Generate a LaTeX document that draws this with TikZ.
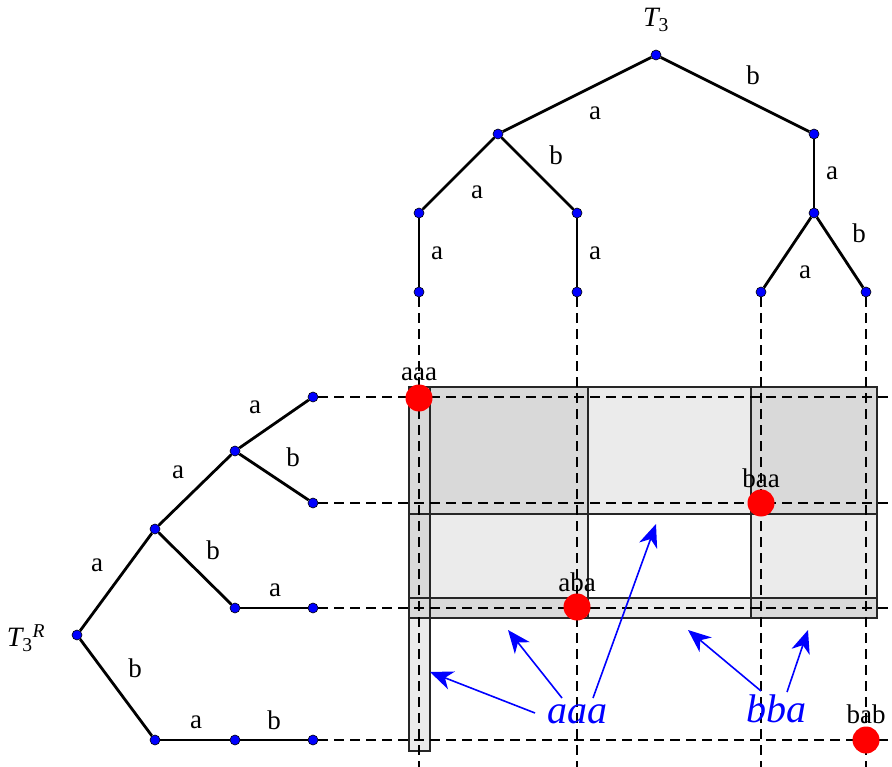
\documentclass[tikz,border=0pt]{standalone}
\usepackage{fontspec}
\setmainfont{Liberation Serif}
\usetikzlibrary{arrows.meta}
\begin{document}
\begin{tikzpicture}[x=1pt,y=-1pt,
  edge/.style={line width=2.8pt},
  vtx/.style={circle,fill=blue,draw=black,line width=0.6pt,inner sep=0pt,minimum size=10pt},
  hit/.style={circle,fill=red,inner sep=0pt,minimum size=27pt},
  lbl/.style={font=\fontsize{27}{30}\selectfont,inner sep=0pt},
  word/.style={font=\fontsize{27}{30}\selectfont,inner sep=0pt,anchor=base},
  guide/.style={dash pattern=on 10pt off 6pt,line width=1.2pt},
  band/.style={fill=black!8},
  overlap/.style={fill=black!15},
  bandline/.style={draw=black!85,line width=1.2pt},
  pointer/.style={blue,line width=1.6pt,-{Stealth[length=23pt,width=19pt,inset=7pt]}},
  big/.style={font=\fontsize{40}{44}\selectfont\itshape,text=blue,inner sep=0pt,anchor=base},
  title/.style={font=\fontsize{28}{32}\selectfont,inner sep=0pt}
]
\useasboundingbox (0,0) rectangle (892,767);

% shaded bands
\fill[band] (409,387) rectangle (877,514);
\fill[band] (409,598) rectangle (877,618);
\fill[band] (409,387) rectangle (588,618);
\fill[band] (751,387) rectangle (877,618);
\fill[band] (409,387) rectangle (430,751);
\fill[overlap] (409,387) rectangle (588,514);
\fill[overlap] (751,387) rectangle (877,514);
\fill[overlap] (409,598) rectangle (588,618);
\fill[overlap] (751,598) rectangle (877,618);
\fill[overlap] (409,514) rectangle (430,598);
\draw[bandline] (409,387) rectangle (877,514);
\draw[bandline] (409,598) rectangle (877,618);
\draw[bandline] (409,387) rectangle (588,618);
\draw[bandline] (751,387) rectangle (877,618);
\draw[bandline] (409,387) rectangle (430,751);

% top tree T3
\node[vtx] (t) at (656,55) {};
\node[vtx] (ta) at (498,134) {};
\node[vtx] (tb) at (814,134) {};
\node[vtx] (taa) at (419,213) {};
\node[vtx] (tab) at (577,213) {};
\node[vtx] (tba) at (814,213) {};
\node[vtx] (taaa) at (419,292) {};
\node[vtx] (taba) at (577,292) {};
\node[vtx] (tbaa) at (761,292) {};
\node[vtx] (tbab) at (866,292) {};
\draw[edge] (t) -- (ta);
\draw[edge] (t) -- (tb);
\draw[edge] (ta) -- (taa);
\draw[edge] (ta) -- (tab);
\draw[edge] (tb) -- (tba);
\draw[edge] (taa) -- (taaa);
\draw[edge] (tab) -- (taba);
\draw[edge] (tba) -- (tbaa);
\draw[edge] (tba) -- (tbab);
\node[title] (T) at (656,20) {\itshape T\textsubscript{\upshape 3}};
\node[lbl] (e1) at (753,75) {b};
\node[lbl] (e2) at (595,113) {a};
\node[lbl] (e3) at (556,155) {b};
\node[lbl] (e4) at (477,192) {a};
\node[lbl] (e5) at (832,173) {a};
\node[lbl] (e6) at (437,253) {a};
\node[lbl] (e7) at (595,253) {a};
\node[lbl] (e8) at (859,233) {b};
\node[lbl] (e9) at (805,272) {a};

% left tree T3^R
\node[vtx] (r) at (77,635) {};
\node[vtx] (ra) at (155,529) {};
\node[vtx] (rb) at (155,740) {};
\node[vtx] (raa) at (235,451) {};
\node[vtx] (rab) at (235,608) {};
\node[vtx] (rba) at (235,740) {};
\node[vtx] (raaa) at (313,397) {};
\node[vtx] (raab) at (313,503) {};
\node[vtx] (raba) at (313,608) {};
\node[vtx] (rbab) at (313,740) {};
\draw[edge] (r) -- (ra);
\draw[edge] (r) -- (rb);
\draw[edge] (ra) -- (raa);
\draw[edge] (ra) -- (rab);
\draw[edge] (raa) -- (raaa);
\draw[edge] (raa) -- (raab);
\draw[edge] (rab) -- (raba);
\draw[edge] (rb) -- (rba);
\draw[edge] (rba) -- (rbab);
\node[title] (TR) at (26,638) {\itshape T\textsubscript{\upshape 3}\textsuperscript{R}};
\node[lbl] (f1) at (97,565) {a};
\node[lbl] (f2) at (135,668) {b};
\node[lbl] (f3) at (178,472) {a};
\node[lbl] (f4) at (213,550) {b};
\node[lbl] (f5) at (255,407) {a};
\node[lbl] (f6) at (293,457) {b};
\node[lbl] (f7) at (275,590) {a};
\node[lbl] (f8) at (196,722) {a};
\node[lbl] (f9) at (274,720) {b};

% guide lines
\coordinate (v1) at (419,767);
\coordinate (v2) at (577,767);
\coordinate (v3) at (761,767);
\coordinate (v4) at (866,767);
\coordinate (h1) at (892,397);
\coordinate (h2) at (892,503);
\coordinate (h3) at (892,608);
\coordinate (h4) at (892,740);
\draw[guide] (taaa) -- (v1);
\draw[guide] (taba) -- (v2);
\draw[guide] (tbaa) -- (v3);
\draw[guide] (tbab) -- (v4);
\draw[guide] (raaa) -- (h1);
\draw[guide] (raab) -- (h2);
\draw[guide] (raba) -- (h3);
\draw[guide] (rbab) -- (h4);

% red hits
\node[hit] (haaa) at (419,398) {};
\node[hit] (hbaa) at (761,503) {};
\node[hit] (haba) at (577,607) {};
\node[hit] (hbab) at (866,740) {};
\node[word] (waaa) at (419,381) {aaa};
\node[word] (wbaa) at (761,487) {baa};
\node[word] (waba) at (577,591) {aba};
\node[word] (wbab) at (866,723) {bab};

% blue labels and arrows
\node[big] (Laaa) at (577,723) {aaa};
\node[big] (Lbba) at (776,722) {bba};
\coordinate (s1) at (535,713);
\coordinate (s2) at (562,698);
\coordinate (s3) at (593,698);
\coordinate (s4) at (761,691);
\coordinate (s5) at (787,692);
\coordinate (p1) at (430,672);
\coordinate (p2) at (508,630);
\coordinate (p3) at (656,524);
\coordinate (p4) at (688,630);
\coordinate (p5) at (808,630);
\draw[pointer] (s1) -- (p1);
\draw[pointer] (s2) -- (p2);
\draw[pointer] (s3) -- (p3);
\draw[pointer] (s4) -- (p4);
\draw[pointer] (s5) -- (p5);
\end{tikzpicture}
\end{document}
